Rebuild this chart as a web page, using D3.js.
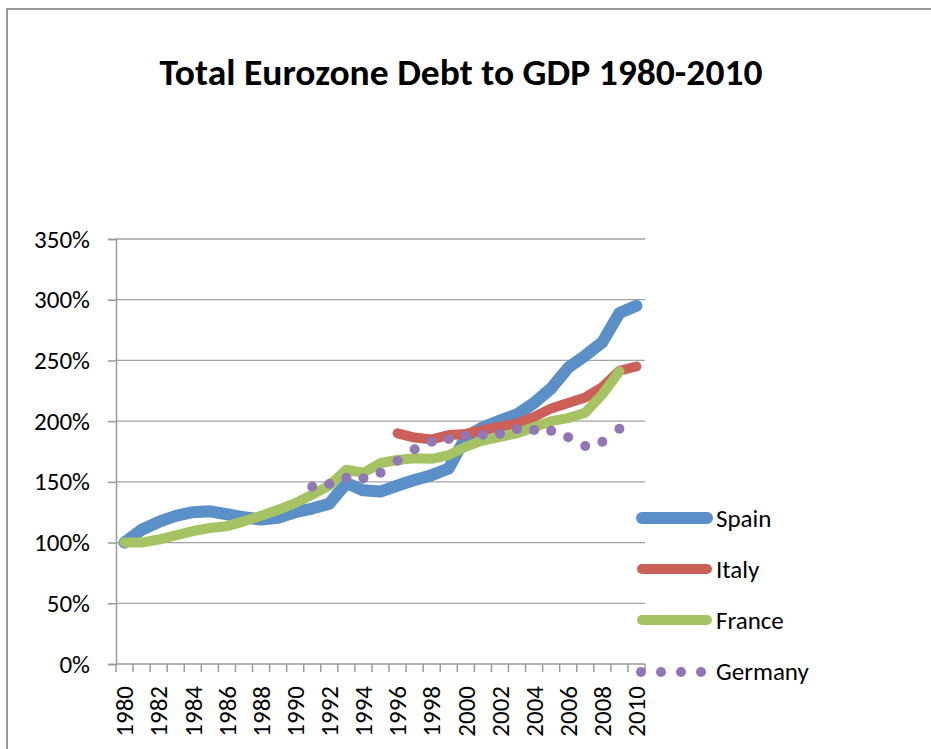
<!DOCTYPE html>
<html>
<head>
<meta charset="utf-8">
<script src="https://cdn.jsdelivr.net/npm/d3@7/dist/d3.min.js"></script>
<style>
  html, body { margin: 0; padding: 0; background: #fff; }
  svg { display: block; }
  text { font-family: Carlito, Calibri, Lato, "Open Sans", sans-serif; fill: #000; }
</style>
</head>
<body>
<svg id="chart" width="931" height="749"></svg>
<script>
// Debt-to-GDP ratio (% of GDP), one value per year; null where no figure.
const years = d3.range(1980, 2011);
const spain = [100, 110.6, 117, 122, 125, 125.7, 123.3, 120.8, 119, 120.5,
  125, 128, 132, 149, 143, 142, 147, 151.5, 155.5, 161,
  187, 195, 200.5, 205.5, 215, 227, 244, 254, 265, 289, 295];
const italy = [null, null, null, null, null, null, null, null, null, null,
  null, null, null, null, null, null, 190, 186.5, 185, 188.6,
  189.5, 192.5, 195.5, 198, 203.5, 210.5, 215, 219.5, 228, 241.5, 245];
const france = [100, 100, 102.5, 106, 109.5, 112, 113.5, 117.5, 122, 127,
  132.5, 139.5, 147, 160, 157.5, 165.5, 168, 169.5, 169, 172,
  179, 184, 187, 190, 195, 200, 202.5, 207, 222, 241, null];
const germany = [null, null, null, null, null, null, null, null, null, null,
  null, 146, 148.2, 153.4, 152.9, 157.6, 167.4, 176.8, 183.1, 185.3,
  188, 188.8, 189.5, 193.4, 192.7, 192, 186.8, 179.5, 183.1, 193.8, null];
const yTicks = [0, 50, 100, 150, 200, 250, 300, 350];
const xLabelYears = years.filter(y => y % 2 === 0);
const seriesNames = ["Spain", "Italy", "France", "Germany"];

const svg = d3.select("#chart");

// chart-area frame
svg.append("rect")
  .attr("x", 7).attr("y", 9).attr("width", 940).attr("height", 760)
  .attr("fill", "none").attr("stroke", "#9a9a9a").attr("stroke-width", 2);

svg.append("text")
  .attr("x", 461).attr("y", 85)
  .attr("text-anchor", "middle")
  .attr("textLength", 603).attr("lengthAdjust", "spacingAndGlyphs")
  .style("font-size", "36px").style("font-weight", "bold")
  .text("Total Eurozone Debt to GDP 1980-2010");

const plot = { left: 116, right: 645, top: 239, bottom: 664 };
const x = d3.scaleBand().domain(years).range([plot.left, plot.right]).padding(0);
const y = d3.scaleLinear().domain([0, 350]).range([plot.bottom, plot.top]);
const cx = yr => x(yr) + x.bandwidth() / 2;

// horizontal gridlines
svg.append("g").selectAll("line").data(yTicks.filter(v => v > 0)).join("line")
  .attr("x1", plot.left).attr("x2", plot.right)
  .attr("y1", d => y(d)).attr("y2", d => y(d))
  .attr("stroke", "#a3a3a3").attr("stroke-width", 1.3);

// value axis
const yAxis = svg.append("g").attr("transform", `translate(${plot.left},0)`)
  .call(d3.axisLeft(y).tickValues(yTicks).tickFormat(d => d + "%").tickSize(8).tickPadding(18));
yAxis.select(".domain").attr("stroke", "#9a9a9a").attr("stroke-width", 1.5);
yAxis.selectAll(".tick line").attr("stroke", "#9a9a9a").attr("stroke-width", 1.5);
yAxis.selectAll(".tick text").style("font-size", "25px")
  .style("font-family", "Carlito, Calibri, Lato, sans-serif").attr("fill", "#000");

// category axis: ticks at band edges, labels every second year
const edges = years.map(yr => x(yr)).concat([plot.right]);
svg.append("line").attr("x1", plot.left).attr("x2", plot.right)
  .attr("y1", plot.bottom).attr("y2", plot.bottom)
  .attr("stroke", "#9a9a9a").attr("stroke-width", 1.5);
svg.append("g").selectAll("line").data(edges).join("line")
  .attr("x1", d => d).attr("x2", d => d)
  .attr("y1", plot.bottom).attr("y2", plot.bottom + 8)
  .attr("stroke", "#9a9a9a").attr("stroke-width", 1.5);
svg.append("g").selectAll("text").data(xLabelYears).join("text")
  .attr("transform", d => `translate(${cx(d)},${plot.bottom + 22}) rotate(-90)`)
  .attr("text-anchor", "end").attr("dy", "0.35em")
  .style("font-size", "25px")
  .text(d => d);

const colors = { Spain: "#5A8FC7", Italy: "#CC5F57", France: "#A6C363", Germany: "#9177B5" };
const widths = { Spain: 12, Italy: 10, France: 10 };
const valuesOf = { Spain: spain, Italy: italy, France: france, Germany: germany };

const line = d3.line()
  .defined(d => d.v != null)
  .x(d => cx(d.year)).y(d => y(d.v));

["Spain", "Italy", "France"].forEach(name => {
  const pts = years.map((yr, i) => ({ year: yr, v: valuesOf[name][i] }));
  svg.append("path").datum(pts)
    .attr("d", line)
    .attr("fill", "none")
    .attr("stroke", colors[name])
    .attr("stroke-width", widths[name])
    .attr("stroke-linejoin", "round")
    .attr("stroke-linecap", "round");
});

// Germany: round dots at each year
svg.append("g").selectAll("circle")
  .data(years.map((yr, i) => ({ year: yr, v: germany[i] })).filter(d => d.v != null))
  .join("circle")
  .attr("cx", d => cx(d.year)).attr("cy", d => y(d.v)).attr("r", 5)
  .attr("fill", colors.Germany);

// legend
const legend = svg.append("g");
seriesNames.forEach((name, i) => {
  const ly = 518 + i * 51;
  if (name === "Germany") {
    legend.selectAll(null).data([0, 1, 2, 3]).join("circle")
      .attr("cx", k => 641 + k * 20).attr("cy", ly + 1).attr("r", 5)
      .attr("fill", colors[name]);
  } else {
    legend.append("line")
      .attr("x1", 642).attr("x2", 707).attr("y1", ly).attr("y2", ly)
      .attr("stroke", colors[name]).attr("stroke-width", widths[name])
      .attr("stroke-linecap", "round");
  }
  legend.append("text")
    .attr("x", 716).attr("y", ly).attr("dy", "0.36em")
    .style("font-size", "25px")
    .text(name);
});
</script>
</body>
</html>
